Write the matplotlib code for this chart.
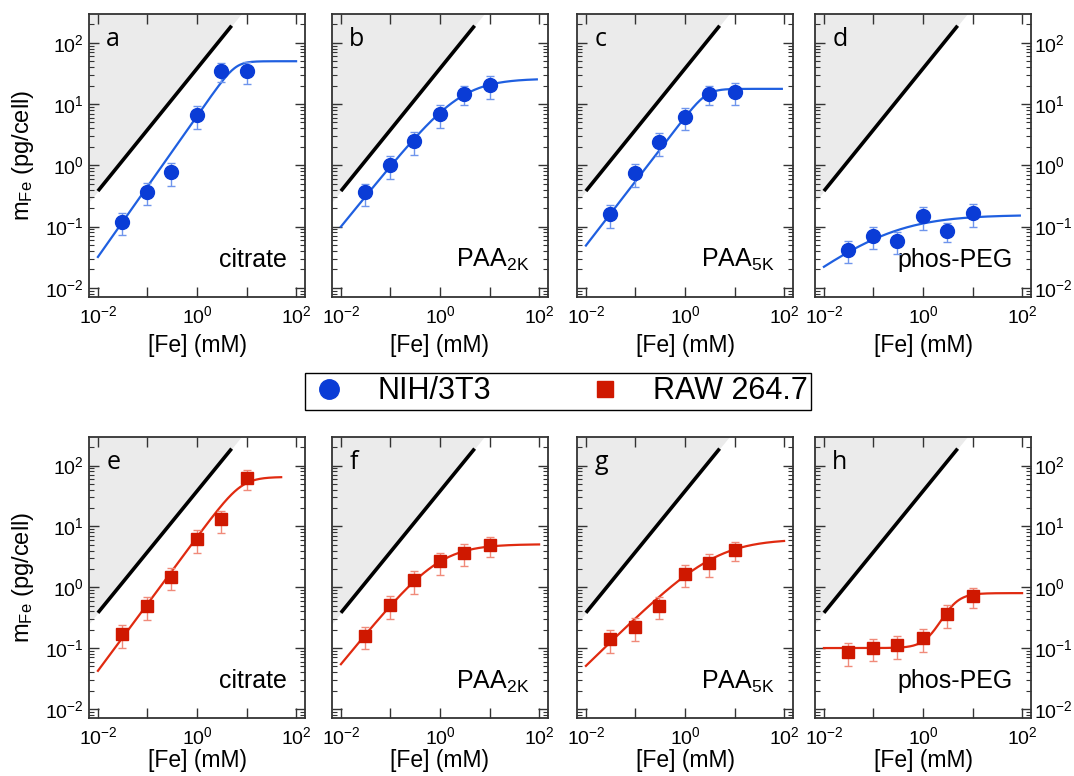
import numpy as np
import matplotlib
matplotlib.use("Agg")
import matplotlib.pyplot as plt
from matplotlib.lines import Line2D
from matplotlib.ticker import LogLocator, NullFormatter

plt.rcParams['font.family'] = ['Liberation Sans', 'DejaVu Sans']
plt.rcParams['mathtext.fontset'] = 'custom'
plt.rcParams['mathtext.rm'] = 'Liberation Sans'
plt.rcParams['mathtext.it'] = 'Liberation Sans:italic'
plt.rcParams['mathtext.bf'] = 'Liberation Sans:bold'

# ---------------- data ----------------
fe_conc = [0.03, 0.1, 0.3, 1, 3, 10]            # [Fe] (mM)

nih_citrate = [0.12, 0.37, 0.77, 6.6, 35, 35]
nih_paa2k   = [0.36, 1.0, 2.5, 6.9, 14.7, 20.5]
nih_paa5k   = [0.16, 0.74, 2.4, 6.2, 14.7, 16]
nih_phospeg = [0.042, 0.071, 0.059, 0.149, 0.085, 0.167]

raw_citrate = [0.17, 0.49, 1.5, 6.2, 13, 62]
raw_paa2k   = [0.16, 0.51, 1.3, 2.65, 3.7, 4.9]
raw_paa5k   = [0.14, 0.22, 0.50, 1.66, 2.5, 4.1]
raw_phospeg = [0.086, 0.102, 0.112, 0.146, 0.36, 0.71]

# relative error bar sizes
err_nih = [0.4, 0.4, 0.4, 0.4, 0.35, 0.4]
err_raw = [0.4, 0.4, 0.4, 0.4, 0.4, 0.35]

# fitted saturation model parameters per panel: (y0, ymax, K, n, m, x_end)
fit_nih = [(0, 50, 6.0, 1.15, 3, 100),
           (0, 26, 2.6, 1.0, 1, 90),
           (0, 17.7, 2.73, 1.05, 3, 90),
           (0, 0.155, 0.2, 0.6, 1, 90)]
fit_raw = [(0, 65, 7.9, 1.1, 2, 50),
           (0, 5.1, 0.93, 1.0, 1, 100),
           (0, 6.2, 4.0, 0.8, 1, 100),
           (0.1, 0.7, 3.5, 2.5, 1, 100)]

coatings = ['citrate', r'PAA$_{\mathregular{2K}}$', r'PAA$_{\mathregular{5K}}$', 'phos-PEG']
letters_top = ['a', 'b', 'c', 'd']
letters_bot = ['e', 'f', 'g', 'h']

# reference line (maximum uptake) y = slope * x
ref_slope = 38
ref_x = [0.01, 5]

xticks = [1e-2, 1e-1, 1, 1e1, 1e2]
xticklabels = [r'$10^{-2}$', '', r'$10^{0}$', '', r'$10^{2}$']
yticks = [1e-2, 1e-1, 1, 1e1, 1e2]
yticklabels = [r'$10^{-2}$', r'$10^{-1}$', r'$10^{0}$', r'$10^{1}$', r'$10^{2}$']

blue_m = '#0a3cd6'
blue_l = '#1f5fe0'
blue_e = '#6f95ec'
red_m = '#cf1800'
red_l = '#e02a10'
red_e = '#f08a7a'

W, H = 1074, 776
fig = plt.figure(figsize=(W / 100, H / 100), dpi=100)

lefts = [89, 332, 577, 815]
width = 216
rows = [(14, 297), (437, 718)]
xlabel_y = [-0.13, -0.112]

xlim = (10 ** -2.18, 10 ** 2.18)
ylim = (10 ** -2.15, 10 ** 2.47)


def model(x, y0, ymax, K, n, m):
    u = (x / K) ** n
    return y0 + ymax * u / (1 + u ** m) ** (1.0 / m)


def style_axes(ax, col, row):
    ax.set_xscale('log')
    ax.set_yscale('log')
    ax.set_xlim(*xlim)
    ax.set_ylim(*ylim)
    ax.set_xticks(xticks)
    ax.set_xticklabels(xticklabels)
    ax.set_yticks(yticks)
    ax.set_yticklabels(yticklabels)
    ax.xaxis.set_minor_locator(LogLocator(base=10, subs=np.arange(2, 10)))
    ax.yaxis.set_minor_locator(LogLocator(base=10, subs=np.arange(2, 10)))
    ax.xaxis.set_minor_formatter(NullFormatter())
    ax.yaxis.set_minor_formatter(NullFormatter())
    ax.tick_params(which='both', direction='in', top=True, right=True,
                   colors='#333333', labelcolor='black', labelsize=14)
    ax.tick_params(which='major', length=7, width=1.0)
    ax.tick_params(axis='x', which='major', pad=6)
    ax.tick_params(axis='y', which='major', pad=4)
    ax.tick_params(which='minor', length=3.5, width=0.8)
    if col == 0:
        ax.tick_params(axis='y', labelleft=True, labelright=False)
    elif col == 3:
        ax.tick_params(axis='y', labelleft=False, labelright=True, pad=2)
    else:
        ax.tick_params(axis='y', labelleft=False, labelright=False)
    for s in ax.spines.values():
        s.set_color('#333333')
        s.set_linewidth(1.3)
    ax.set_xlabel('[Fe] (mM)', fontsize=16.5)
    ax.xaxis.set_label_coords(0.5, xlabel_y[row])
    if col == 0:
        ax.set_ylabel(r'm$_{\mathregular{Fe}}$ (pg/cell)', fontsize=17)
        ax.yaxis.set_label_coords(-0.245, 0.5)


panels = [
    (0, [nih_citrate, nih_paa2k, nih_paa5k, nih_phospeg], err_nih, fit_nih,
     letters_top, 'o', 10, blue_m, blue_l, blue_e),
    (1, [raw_citrate, raw_paa2k, raw_paa5k, raw_phospeg], err_raw, fit_raw,
     letters_bot, 's', 9, red_m, red_l, red_e),
]

for r, series, errs, fits, letters, mk, ms, cm, cl, ce in panels:
    top, bot = rows[r]
    for c in range(4):
        ax = fig.add_axes([lefts[c] / W, 1 - bot / H, width / W, (bot - top) / H])
        style_axes(ax, c, r)
        # grey forbidden region above reference line
        xf = np.logspace(np.log10(xlim[0]), np.log10(xlim[1]), 200)
        ax.fill_between(xf, ref_slope * xf, ylim[1] * 2, color='#ebebeb', lw=0, zorder=0)
        rx = np.array(ref_x)
        ax.plot(rx, ref_slope * rx, color='black', lw=2.6, solid_capstyle='butt', zorder=2)
        # fit curve
        y0, ymax, K, n, m, xend = fits[c]
        xc = np.logspace(-2, np.log10(xend), 300)
        ax.plot(xc, model(xc, y0, ymax, K, n, m), color=cl, lw=1.6, zorder=3)
        # data with error bars
        y = np.array(series[c])
        e = np.array(errs) * y
        ax.errorbar(fe_conc, y, yerr=e, fmt='none', ecolor=ce, elinewidth=1.0,
                    capsize=3, capthick=1.0, zorder=4)
        ax.plot(fe_conc, y, ls='none', marker=mk, ms=ms, color=cm, mec=cm, zorder=5)
        ax.text(0.08, 0.955, letters[c], transform=ax.transAxes, ha='left', va='top',
                fontsize=18, family=['Open Sans', 'DejaVu Sans'])
        ax.text(0.915, 0.105, coatings[c], transform=ax.transAxes, ha='right',
                va='baseline', fontsize=18)

handles = [Line2D([], [], marker='o', ls='none', color=blue_m, ms=14),
           Line2D([], [], marker='s', ls='none', color=red_m, ms=12)]
leg = fig.legend(handles=handles, labels=['NIH/3T3', 'RAW 264.7'], loc='center',
                 bbox_to_anchor=(0.5195, 0.4955), ncol=2, fontsize=22, frameon=True,
                 fancybox=False, edgecolor='black', framealpha=1, borderpad=0.1,
                 handlelength=1.4, handletextpad=0.9, columnspacing=3.0)
leg.get_frame().set_linewidth(1.0)

fig.savefig('out.png', dpi=100)
